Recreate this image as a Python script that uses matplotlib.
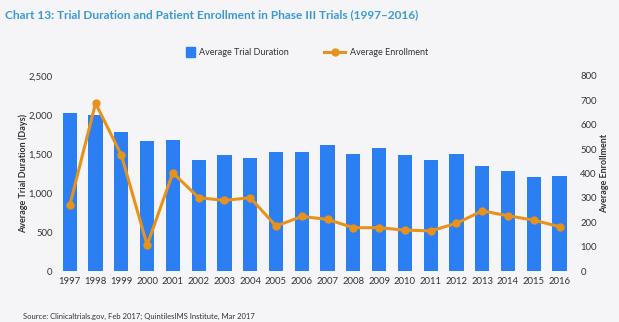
import matplotlib
matplotlib.use("Agg")
import matplotlib.pyplot as plt
import numpy as np
from matplotlib.lines import Line2D
from matplotlib.patches import Patch

years = [str(y) for y in range(1997, 2017)]
duration = [2020, 2000, 1778, 1667, 1679, 1423, 1487, 1449, 1530, 1530,
            1620, 1500, 1581, 1487, 1423, 1500, 1350, 1278, 1201, 1214]
enrollment = [270, 688, 476, 107, 403, 301, 290, 301, 185, 224,
              212, 178, 178, 168, 165, 196, 247, 227, 209, 182]
left_ticks = [0, 500, 1000, 1500, 2000, 2500]
right_ticks = [0, 100, 200, 300, 400, 500, 600, 700, 800]

bg = "#f5f5f7"
bar_c = "#2b7ff2"
line_c = "#e8921c"
txt = "#333333"

plt.rcParams['font.family'] = ['Lato', 'DejaVu Sans']

fig = plt.figure(figsize=(6.19, 3.22), dpi=100, facecolor=bg)
ax = fig.add_axes([0.094, 0.158, 0.830, 0.606])
ax.set_facecolor(bg)
x = np.arange(len(years))
ax.bar(x, duration, width=0.55, color=bar_c, zorder=2)
ax.set_xlim(-0.45, 19.48)
ax.set_ylim(0, 2500)
ax.set_xticks(x)
ax.set_xticklabels(years, fontsize=6.8, color=txt)
ax.set_yticks(left_ticks)
ax.set_yticklabels([f"{v:,}" for v in left_ticks], fontsize=6.8, color=txt)
ax.tick_params(length=0, pad=4)
for s in ax.spines.values():
    s.set_visible(False)
ax.set_ylabel("Average Trial Duration (Days)", fontsize=6.5, fontweight='bold', color=txt, labelpad=0)

ax2 = ax.twinx()
ax2.plot(x, enrollment, color=line_c, lw=2.2, marker='o', ms=5, zorder=3)
ax2.set_ylim(0, 800)
ax2.set_yticks(right_ticks)
ax2.set_yticklabels([str(v) for v in right_ticks], fontsize=6.8, color=txt)
ax2.tick_params(length=0, pad=6)
for s in ax2.spines.values():
    s.set_visible(False)
ax2.set_ylabel("Average Enrollment", fontsize=6.5, fontweight='bold', color=txt, labelpad=2)

leg1 = fig.legend(handles=[Patch(color=bar_c, label="Average Trial Duration")],
                  loc='center left', bbox_to_anchor=(0.287, 0.838), frameon=False,
                  fontsize=6.5, handlelength=1.0, handleheight=1.3, handletextpad=0.5,
                  labelcolor=txt)
leg2 = fig.legend(handles=[Line2D([0], [0], color=line_c, lw=2.2, marker='o', ms=5,
                                  label="Average Enrollment")],
                  loc='center left', bbox_to_anchor=(0.511, 0.838), frameon=False,
                  fontsize=6.5, handlelength=2.3, handletextpad=0.5, labelcolor=txt)

fig.text(0.008, 0.955, "Chart 13: Trial Duration and Patient Enrollment in Phase III Trials (1997\u20132016)",
         fontsize=8.6, fontweight='bold', color="#3b9ad6", va='center')
fig.text(0.037, 0.018, "Source: Clinicaltrials.gov, Feb 2017; QuintilesIMS Institute, Mar 2017",
         fontsize=5.5, color=txt, va='center')

fig.savefig("out.png", dpi=100, facecolor=bg)
